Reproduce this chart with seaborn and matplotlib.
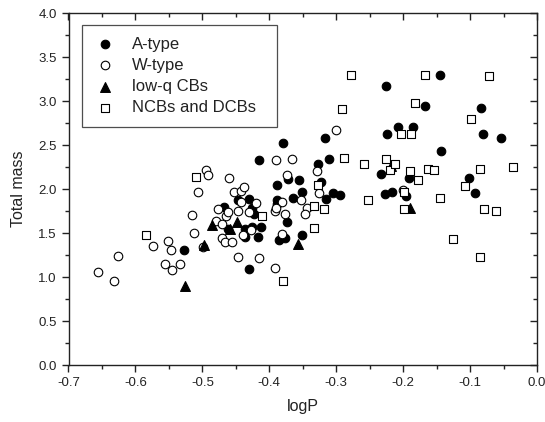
import numpy as np
import pandas as pd
import matplotlib
matplotlib.use("Agg")
import matplotlib.pyplot as plt
from matplotlib.ticker import MultipleLocator, FormatStrFormatter
import seaborn as sns

# A-type contact binaries
a_logp = [-0.527, -0.467, -0.461, -0.446, -0.431, -0.426, -0.423, -0.436, -0.436, -0.426,
          -0.413, -0.417, -0.431, -0.415, -0.380, -0.388, -0.388, -0.388, -0.372, -0.355,
          -0.365, -0.351, -0.374, -0.385, -0.376, -0.351, -0.317, -0.327, -0.311, -0.322,
          -0.316, -0.305, -0.294, -0.233, -0.225, -0.224, -0.207, -0.186, -0.167, -0.145,
          -0.143, -0.227, -0.217, -0.191, -0.195, -0.102, -0.093, -0.084, -0.081, -0.054]
a_mass = [1.31, 1.79, 1.54, 1.87, 1.89, 1.78, 1.72, 1.54, 1.45, 1.57,
          1.57, 1.46, 1.09, 2.33, 2.52, 2.05, 1.88, 1.83, 2.11, 2.10,
          1.90, 1.97, 1.62, 1.42, 1.44, 1.48, 2.58, 2.28, 2.34, 2.08,
          1.89, 1.96, 1.93, 2.17, 3.17, 2.63, 2.71, 2.71, 2.94, 3.30,
          2.43, 1.94, 1.97, 2.12, 1.92, 2.12, 1.96, 2.92, 2.63, 2.58]

# W-type contact binaries
w_logp = [-0.656, -0.632, -0.626, -0.573, -0.552, -0.547, -0.556, -0.545, -0.534, -0.516,
          -0.513, -0.506, -0.494, -0.492, -0.499, -0.460, -0.477, -0.480, -0.470, -0.464,
          -0.461, -0.470, -0.466, -0.456, -0.453, -0.442, -0.438, -0.443, -0.446, -0.439,
          -0.446, -0.420, -0.431, -0.427, -0.416, -0.390, -0.366, -0.373, -0.381, -0.391,
          -0.390, -0.377, -0.381, -0.391, -0.300, -0.329, -0.326, -0.353, -0.343, -0.347,
          -0.200]
w_mass = [1.06, 0.96, 1.24, 1.35, 1.41, 1.31, 1.15, 1.08, 1.15, 1.71,
          1.50, 1.97, 2.22, 2.16, 1.34, 2.13, 1.77, 1.64, 1.60, 1.69,
          1.74, 1.44, 1.40, 1.40, 1.97, 1.98, 2.02, 1.85, 1.75, 1.48,
          1.23, 1.84, 1.74, 1.53, 1.22, 2.33, 2.34, 2.16, 1.85, 1.75,
          1.78, 1.72, 1.49, 1.10, 2.67, 2.20, 1.96, 1.88, 1.78, 1.72,
          1.99]

# low-q contact binaries
q_logp = [-0.526, -0.498, -0.485, -0.459, -0.448, -0.357, -0.190, -0.218]
q_mass = [0.90, 1.36, 1.59, 1.55, 1.62, 1.38, 1.78, 2.26]

# NCBs and DCBs
n_logp = [-0.584, -0.510, -0.411, -0.379, -0.278, -0.291, -0.289, -0.333, -0.318, -0.333,
          -0.327, -0.258, -0.253, -0.225, -0.219, -0.212, -0.203, -0.189, -0.182, -0.167,
          -0.190, -0.178, -0.163, -0.154, -0.199, -0.198, -0.145, -0.125, -0.107, -0.099,
          -0.085, -0.085, -0.079, -0.062, -0.071, -0.036]
n_mass = [1.48, 2.14, 1.69, 0.95, 3.29, 2.91, 2.35, 1.81, 1.77, 1.56,
          2.05, 2.28, 1.87, 2.34, 2.22, 2.28, 2.63, 2.62, 2.98, 3.30,
          2.21, 2.10, 2.23, 2.22, 1.97, 1.77, 1.90, 1.43, 2.03, 2.79,
          2.23, 1.23, 1.77, 1.75, 3.28, 2.25]

df_a = pd.DataFrame({"logP": a_logp, "mass": a_mass})
df_w = pd.DataFrame({"logP": w_logp, "mass": w_mass})
df_q = pd.DataFrame({"logP": q_logp, "mass": q_mass})
df_n = pd.DataFrame({"logP": n_logp, "mass": n_mass})

sns.set_style("ticks")
plt.rcParams["font.family"] = ["Liberation Sans", "DejaVu Sans"]

ink = "#222222"
fig = plt.figure(figsize=(5.45, 4.22), dpi=100)
ax = fig.add_axes([68.5 / 545, 1 - 365 / 422, 468.5 / 545, 352 / 422])

sns.scatterplot(data=df_a, x="logP", y="mass", marker="o", s=38, color="black",
                edgecolor="black", linewidth=0.8, label="A-type", ax=ax, zorder=3)
sns.scatterplot(data=df_w, x="logP", y="mass", marker="o", s=38, facecolor="white",
                edgecolor="black", linewidth=0.8, label="W-type", ax=ax, zorder=3)
sns.scatterplot(data=df_q, x="logP", y="mass", marker="^", s=50, color="black",
                edgecolor="black", linewidth=0.8, label="low-q CBs", ax=ax, zorder=4)
sns.scatterplot(data=df_n, x="logP", y="mass", marker="s", s=30, facecolor="white",
                edgecolor="black", linewidth=0.8, label="NCBs and DCBs", ax=ax, zorder=4)

ax.set_xlim(-0.7, 0.0)
ax.set_ylim(0.0, 4.0)
for axis, major, minor in [(ax.xaxis, 0.1, 0.05), (ax.yaxis, 0.5, 0.25)]:
    axis.set_major_locator(MultipleLocator(major))
    axis.set_minor_locator(MultipleLocator(minor))
    axis.set_major_formatter(FormatStrFormatter("%.1f"))
ax.tick_params(which="both", direction="out", labelsize=9.5, width=1.0,
               color=ink, labelcolor=ink)
ax.tick_params(which="major", length=5)
ax.tick_params(which="minor", length=3)

# mirrored ticks on top and right point inwards
top = ax.secondary_xaxis("top")
right = ax.secondary_yaxis("right")
for sec, axis, major, minor in [(top, top.xaxis, 0.1, 0.05), (right, right.yaxis, 0.5, 0.25)]:
    axis.set_major_locator(MultipleLocator(major))
    axis.set_minor_locator(MultipleLocator(minor))
    sec.tick_params(which="both", direction="in", width=1.0, color=ink,
                    labeltop=False, labelright=False)
    sec.tick_params(which="major", length=5)
    sec.tick_params(which="minor", length=3)
    for sp in sec.spines.values():
        sp.set_visible(False)

for sp in ax.spines.values():
    sp.set_linewidth(1.0)
    sp.set_color(ink)

ax.set_xlabel("logP", fontsize=11.5, labelpad=7, color=ink)
ax.set_ylabel("Total mass", fontsize=11.5, labelpad=9, color=ink)

leg = ax.legend(loc="upper left", bbox_to_anchor=(0.029, 0.0, 0.416, 0.966),
                mode="expand", borderaxespad=0, fontsize=12, frameon=True,
                fancybox=False, borderpad=0.7, handletextpad=1.0,
                labelspacing=0.37, handlelength=1.3)
leg.get_frame().set_edgecolor(ink)
leg.get_frame().set_linewidth(0.9)
for t in leg.get_texts():
    t.set_color(ink)

fig.savefig("out.png", dpi=100)
